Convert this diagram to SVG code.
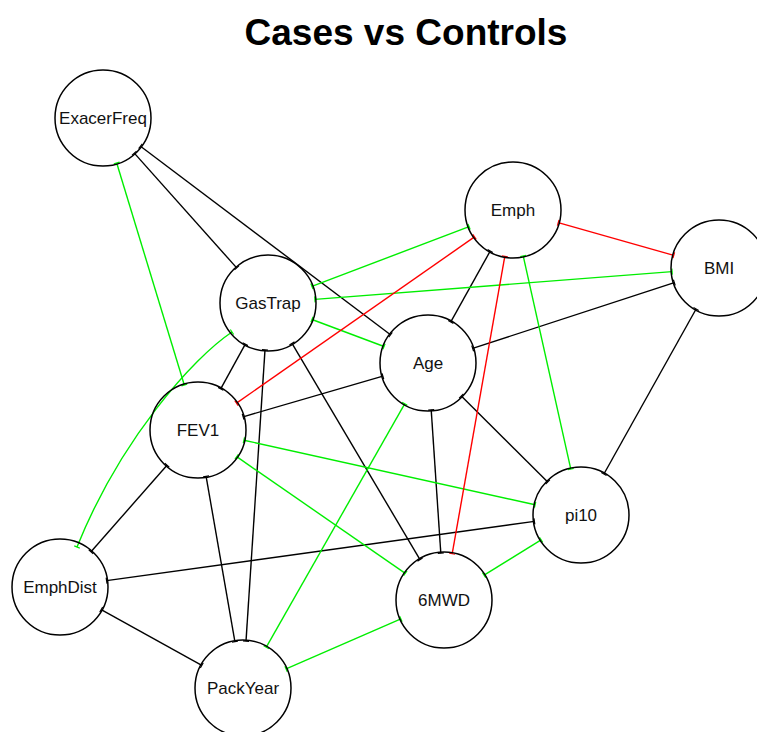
<svg xmlns="http://www.w3.org/2000/svg" width="757" height="732" viewBox="0 0 757 732">
<style>
.node circle{fill:none;stroke:#000;stroke-width:1.5}
.node text{font-family:"Liberation Sans",Arial,sans-serif;font-size:17px;fill:#111;text-anchor:middle}
.title{font-family:"Liberation Sans",Arial,sans-serif;font-size:37px;font-weight:bold;text-anchor:middle;fill:#000}
.e{fill:none;stroke-width:1.4}
.k{stroke:#000;marker-start:url(#tk);marker-end:url(#tk)}
.g{stroke:#00ee00;marker-start:url(#tg);marker-end:url(#tg)}
.r{stroke:#ff0000;marker-start:url(#tr);marker-end:url(#tr)}
</style>
<defs>
<marker id="tk" markerUnits="userSpaceOnUse" viewBox="-4 -4 8 8" markerWidth="8" markerHeight="8" refX="0" refY="0" orient="auto"><path d="M0,-3L0,3" stroke="#000" stroke-width="1.2"/></marker>
<marker id="tg" markerUnits="userSpaceOnUse" viewBox="-4 -4 8 8" markerWidth="8" markerHeight="8" refX="0" refY="0" orient="auto"><path d="M0,-3L0,3" stroke="#00ee00" stroke-width="1.2"/></marker>
<marker id="tr" markerUnits="userSpaceOnUse" viewBox="-4 -4 8 8" markerWidth="8" markerHeight="8" refX="0" refY="0" orient="auto"><path d="M0,-3L0,3" stroke="#ff0000" stroke-width="1.2"/></marker>
</defs>
<rect width="757" height="732" fill="#fff"/>
<text class="title" x="406" y="45">Cases vs Controls</text>
<g id="edges">
<line class="e k" x1="134.3" y1="153.1" x2="236.7" y2="267.9"/>
<line class="e k" x1="140.5" y1="146.3" x2="390.5" y2="334.7"/>
<line class="e k" x1="490.2" y1="251.1" x2="450.8" y2="321.9"/>
<line class="e k" x1="674.3" y1="282.6" x2="472.7" y2="348.4"/>
<line class="e k" x1="696.1" y1="309" x2="603.9" y2="474"/>
<line class="e k" x1="245.3" y1="344.2" x2="220.7" y2="388.8"/>
<line class="e k" x1="265" y1="349.9" x2="246" y2="641.1"/>
<line class="e k" x1="292" y1="343.4" x2="420" y2="559.6"/>
<line class="e k" x1="382.9" y1="376.2" x2="243.1" y2="416.8"/>
<line class="e k" x1="431.2" y1="409.9" x2="440.8" y2="553.1"/>
<line class="e k" x1="461.3" y1="396.1" x2="547.7" y2="481.9"/>
<line class="e k" x1="167" y1="465.3" x2="91" y2="551.7"/>
<line class="e k" x1="206.1" y1="476.3" x2="234.9" y2="641.7"/>
<line class="e k" x1="106.6" y1="580.6" x2="534.4" y2="521.4"/>
<line class="e k" x1="101.2" y1="609.7" x2="201.8" y2="665.3"/>
<line class="e g" x1="116.7" y1="163" x2="184.3" y2="385"/>
<line class="e g" x1="469.1" y1="226.7" x2="311.9" y2="286.3"/>
<line class="e g" x1="672.1" y1="271.6" x2="314.9" y2="299.4"/>
<line class="e g" x1="312" y1="319.5" x2="384" y2="346.5"/>
<line class="e g" x1="523.2" y1="255.9" x2="570.8" y2="469.1"/>
<path class="e g" d="M232,332 C193,358 120,440 77,547"/>
<line class="e g" x1="404.7" y1="403.8" x2="266.3" y2="647.2"/>
<line class="e g" x1="243.9" y1="440.2" x2="535.1" y2="504.8"/>
<line class="e g" x1="236.7" y1="456.7" x2="405.3" y2="573.3"/>
<line class="e g" x1="541.1" y1="539.8" x2="484.1" y2="575.2"/>
<line class="e g" x1="400.9" y1="618.9" x2="286.1" y2="668.9"/>
<line class="e r" x1="558.2" y1="222.7" x2="673.8" y2="255.3"/>
<line class="e r" x1="474.5" y1="236.9" x2="236.5" y2="403.1"/>
<line class="e r" x1="504.8" y1="256.3" x2="452.2" y2="553.7"/>
</g>
<g id="ExacerFreq" class="node"><circle cx="103" cy="118" r="48"/><text x="103" y="124">ExacerFreq</text></g>
<g id="Emph" class="node"><circle cx="513" cy="210" r="48"/><text x="513" y="216">Emph</text></g>
<g id="BMI" class="node"><circle cx="719" cy="268" r="48"/><text x="719" y="274">BMI</text></g>
<g id="GasTrap" class="node"><circle cx="268" cy="303" r="48"/><text x="268" y="309">GasTrap</text></g>
<g id="Age" class="node"><circle cx="428" cy="363" r="48"/><text x="428" y="369">Age</text></g>
<g id="FEV1" class="node"><circle cx="198" cy="430" r="48"/><text x="198" y="436">FEV1</text></g>
<g id="EmphDist" class="node"><circle cx="60" cy="587" r="48"/><text x="60" y="593">EmphDist</text></g>
<g id="PackYear" class="node"><circle cx="243" cy="688" r="48"/><text x="243" y="694">PackYear</text></g>
<g id="6MWD" class="node"><circle cx="444" cy="600" r="48"/><text x="444" y="606">6MWD</text></g>
<g id="pi10" class="node"><circle cx="581" cy="515" r="48"/><text x="581" y="521">pi10</text></g>
</svg>
